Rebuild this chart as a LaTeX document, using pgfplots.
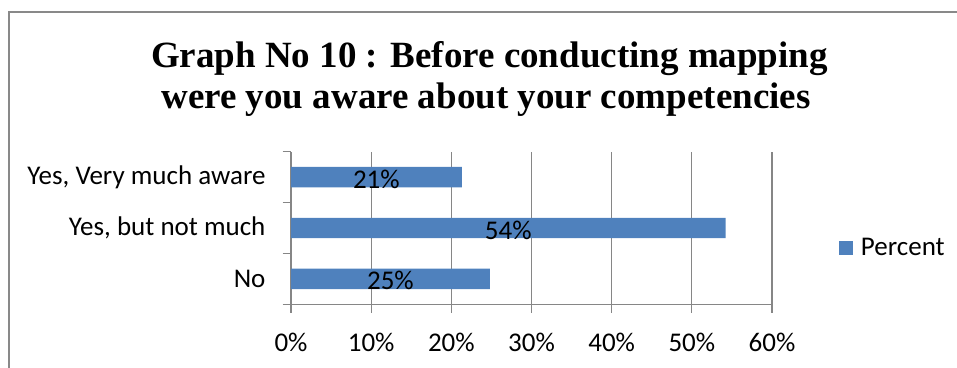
\documentclass[border=0pt]{standalone}
\usepackage{pgfplots}
\pgfplotsset{compat=1.18}
\usepackage{fontspec}
\setmainfont{Carlito}
\newfontfamily\titlefont{Liberation Serif}
\definecolor{barblue}{HTML}{4F81BD}
\definecolor{gridgray}{HTML}{868686}
\definecolor{framegray}{HTML}{898989}
\begin{document}
\begin{tikzpicture}[x=1pt,y=1pt]
\useasboundingbox (0,0) rectangle (957,367);
\draw[framegray, line width=2pt] (9,-5) -- (9,355) -- (965,355);
\node[font=\titlefont\bfseries\fontsize{37}{44}\selectfont, anchor=base, inner sep=0pt] at (489.5,299.7) {Graph No 10 : Before conducting mapping};
\node[font=\titlefont\bfseries\fontsize{37}{44}\selectfont, anchor=base, inner sep=0pt] at (486,258.7) {were you aware about your competencies};
\begin{axis}[
  at={(291pt,62.7pt)}, anchor=south west,
  scale only axis, width=481pt, height=152.6pt,
  xbar, bar width=20.4pt,
  xmin=0, xmax=60, ymin=-0.5, ymax=2.5,
  enlargelimits=false,
  /pgf/number format/assume math mode=true,
  axis x line*=bottom, axis y line*=left,
  axis line style={gridgray, line width=1.3pt},
  xmajorgrids=true,
  major grid style={gridgray, line width=1.3pt},
  tick style={gridgray, line width=1.3pt},
  tick align=outside, major tick length=8.5pt,
  xtick={0,10,...,60},
  xticklabels={0\%,10\%,20\%,30\%,40\%,50\%,60\%},
  ytick={-0.5,0.5,1.5,2.5},
  yticklabels={},
  extra y ticks={0,1,2},
  extra y tick labels={No,{Yes, but not much},{Yes, Very much aware}},
  extra y tick style={major tick length=0pt, yticklabel style={xshift=-22pt}},
  tick label style={font=\fontsize{27}{32}\selectfont, text=black},
  xticklabel style={yshift=-17pt},
  visualization depends on={rawx \as \rx},
  nodes near coords={\pgfmathprintnumber[fixed,precision=0]{\pgfplotspointmeta}\%},
  nodes near coords style={font=\fontsize{27}{32}\selectfont, text=black, anchor=center, shift={(axis direction cs:-\rx/2,0)}, yshift=-2pt},
  legend style={at={(1.138,0.3705)}, anchor=west, draw=none, fill=none, inner sep=0pt,
    font=\fontsize{27}{32}\selectfont, legend cell align=left,
    /tikz/every odd column/.style={column sep=6pt}},
  legend image code/.code={\fill[barblue] (0pt,-7.2pt) rectangle (14.4pt,7.2pt);},
]
\addplot[fill=barblue, draw=none] coordinates {(24.8,0) (54.2,1) (21.3,2)};
\addlegendentry{Percent}
\end{axis}
\end{tikzpicture}
\end{document}
